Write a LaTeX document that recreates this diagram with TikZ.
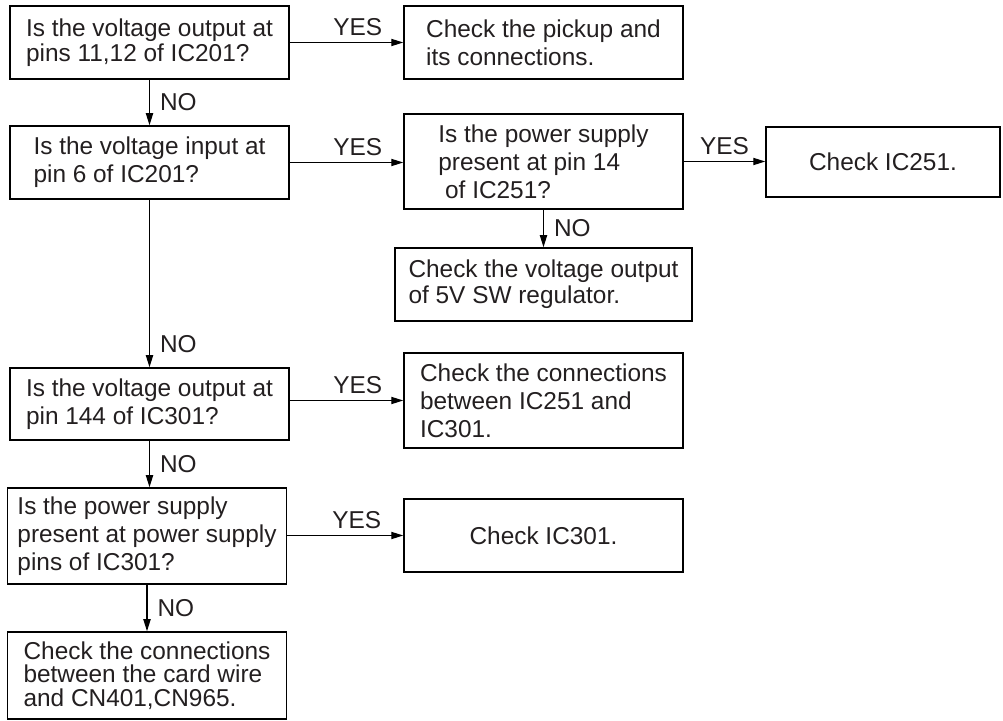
\documentclass[tikz,border=0pt]{standalone}
\usepackage{fontspec}
\setmainfont{Liberation Sans}
\usepackage{xcolor}
\usetikzlibrary{positioning,calc,arrows.meta}
\definecolor{inkgray}{HTML}{231F20}

\begin{document}
\begin{tikzpicture}[x=0.5pt, y=-0.5pt,
  chkbox/.style={draw, line width=0.75pt, align=left, inner sep=0pt, text=inkgray,
    minimum width=139.5pt, font=\fontsize{12.2}{14}\selectfont},
  flow/.style={line width=0.6pt, -{Triangle[length=6pt,width=3.6pt]}},
  lbl/.style={text=inkgray, inner sep=2pt, font=\fontsize{12.2}{14}\selectfont}]
  \useasboundingbox (0,0) rectangle (1003,721);

  % Left column: questions
  \node[chkbox, minimum height=36.5pt, font=\fontsize{12.2}{12.4}\selectfont] (qout) at (149.5, 42.5) {Is the voltage output at\\pins 11,12 of IC201?};
  \node[chkbox, minimum height=36.5pt] (qin) at (149.5, 162.5) {Is the voltage input at\\pin 6 of IC201?};
  \node[chkbox, minimum height=36pt] (qic301) at (149.5, 404) {Is the voltage output at\\pin 144 of IC301?};
  \node[chkbox, minimum height=48pt] (qpwr301) at (147, 536) {Is the power supply\\present at power supply\\pins of IC301?};
  \node[chkbox, minimum height=43.5pt, font=\fontsize{12.2}{11.8}\selectfont] (cwire) at (147, 675.5) {Check the connections\\between the card wire\\and CN401,CN965.};

  % Middle column
  \node[chkbox, minimum height=36.5pt] (pickup) at (543.5, 42.5) {Check the pickup and\\its connections.};
  \node[chkbox, minimum height=47.5pt] (qpwr251) at (543.5, 161.5) {Is the power supply\\present at pin 14\\\ of IC251?};
  \node[chkbox, minimum width=148.5pt, minimum height=36.5pt, font=\fontsize{12.2}{13}\selectfont] (swreg) at (543.5, 284.5) {Check the voltage output\\of 5V SW regulator.};
  \node[chkbox, minimum height=47.5pt] (conn) at (543.5, 400.5) {Check the connections\\between IC251 and\\IC301.};
  \node[chkbox, minimum height=36.5pt] (chk301) at (543.5, 535.5) {Check IC301.};

  % Right column
  \node[chkbox, minimum width=117pt, minimum height=35pt] (chk251) at (883, 162) {Check IC251.};

  % YES branches
  \draw[flow] (qout.east) -- (qout.east -| pickup.west) node[lbl, pos=0.6, above, yshift=1pt] {YES};
  \draw[flow] (qin.east) -- (qin.east -| qpwr251.west) node[lbl, pos=0.6, above, yshift=1pt] {YES};
  \draw[flow] (qpwr251.east) -- (qpwr251.east -| chk251.west) node[lbl, midway, above, yshift=1pt] {YES};
  \draw[flow] (qic301.east |- conn.west) -- (conn.west) node[lbl, pos=0.6, above, yshift=1pt] {YES};
  \draw[flow] (qpwr301.east |- chk301.west) -- (chk301.west) node[lbl, pos=0.6, above, yshift=1pt] {YES};

  % NO branches
  \draw[flow] (qout.south) -- (qin.north) node[lbl, midway, right=3pt] {NO};
  \draw[flow] (qin.south) -- (qic301.north) node[lbl, pos=0.86, right=3pt] {NO};
  \draw[flow] (qic301.south) -- (qic301.south |- qpwr301.north) node[lbl, midway, right=3pt] {NO};
  \draw[flow] (qpwr301.south) -- (cwire.north) node[lbl, midway, right=3pt] {NO};
  \draw[flow] (qpwr251.south) -- (swreg.north) node[lbl, midway, right=3pt] {NO};
\end{tikzpicture}
\end{document}
